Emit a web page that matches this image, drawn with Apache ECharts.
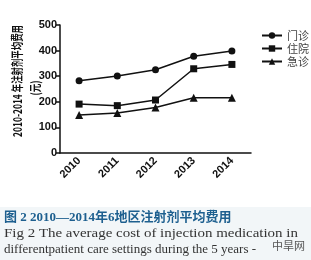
<!DOCTYPE html>
<html>
<head>
    <meta charset="utf-8">
    <script src="https://cdn.jsdelivr.net/npm/echarts@6/dist/echarts.min.js"></script>
    <style>
        html, body { margin: 0; padding: 0; background: #fff; }
        #main { width: 311px; height: 260px; }
    </style>
</head>
<body>
<div id="main"></div>
<script type="text/javascript">
    var years = ['2010', '2011', '2012', '2013', '2014'];
    var menzhen = [282, 301, 325, 378, 398];
    var zhuyuan = [191, 185, 207, 329, 346];
    var jizhen = [148, 156, 178, 216, 216];

    var myChart = echarts.init(document.getElementById('main'));

    function lineSeries(name, symbol, data, size) {
        return {
            name: name,
            type: 'line',
            symbol: symbol,
            symbolSize: size,
            data: data,
            lineStyle: { color: '#111', width: 1.5 },
            itemStyle: { color: '#111' }
        };
    }

    var opt = {
        animation: false,
        grid: { left: 60, right: 60, top: 25, bottom: 107 },
        legend: {
            orient: 'vertical',
            left: 256,
            top: 25,
            itemWidth: 20,
            itemHeight: 8,
            itemGap: 2,
            textStyle: { fontSize: 11, color: '#444', fontFamily: 'Noto Sans CJK SC' },
            data: ['门诊', '住院', '急诊']
        },
        xAxis: {
            type: 'category',
            data: years,
            boundaryGap: true,
            axisLine: { lineStyle: { color: '#111', width: 1.5 } },
            axisTick: { alignWithLabel: true, length: 4, lineStyle: { color: '#111', width: 1.5 } },
            axisLabel: { rotate: 45, color: '#111', fontSize: 11, fontWeight: 'bold', fontFamily: 'Liberation Sans', margin: 6 }
        },
        yAxis: {
            type: 'value',
            min: 0,
            max: 500,
            interval: 100,
            splitLine: { show: false },
            axisLine: { show: true, lineStyle: { color: '#111', width: 1.5 } },
            axisTick: { show: true, length: 4, lineStyle: { color: '#111', width: 1.5 } },
            axisLabel: { color: '#111', fontSize: 11, fontWeight: 'bold', fontFamily: 'Liberation Sans', margin: 3 }
        },
        graphic: [
            {
                type: 'text',
                x: 17, y: 81,
                rotation: Math.PI / 2,
                scaleX: 0.7,
                style: {
                    text: '2010-2014 年注射剂平均费用',
                    fill: '#111',
                    font: 'bold 12px "Noto Sans CJK SC"',
                    align: 'center',
                    verticalAlign: 'middle'
                }
            },
            {
                type: 'text',
                x: 35, y: 88,
                rotation: Math.PI / 2,
                scaleX: 0.7,
                style: {
                    text: '(元)',
                    fill: '#111',
                    font: 'bold 12px "Noto Sans CJK SC"',
                    align: 'center',
                    verticalAlign: 'middle'
                }
            },
            {
                type: 'rect',
                z: -1,
                shape: { x: 0, y: 207, width: 311, height: 53 },
                style: { fill: '#f2f6f8' }
            },
            {
                type: 'text',
                x: 4, y: 218,
                style: {
                    text: '图 2 2010—2014年6地区注射剂平均费用',
                    fill: '#1d5f8f',
                    font: 'bold 13px "Liberation Serif", "Noto Sans CJK SC"',
                    verticalAlign: 'middle'
                }
            },
            {
                type: 'text',
                x: 4, y: 234,
                scaleX: 1.15,
                style: {
                    text: 'Fig 2 The average cost of injection medication in',
                    fill: '#333',
                    font: '13px "Liberation Serif"',
                    verticalAlign: 'middle'
                }
            },
            {
                type: 'text',
                x: 4, y: 250,
                scaleX: 1.0,
                style: {
                    text: 'differentpatient care settings during the 5 years -',
                    fill: '#333',
                    font: '13px "Liberation Serif"',
                    verticalAlign: 'middle'
                }
            },
            {
                type: 'text',
                x: 272, y: 246,
                style: {
                    text: '中旱网',
                    fill: '#555',
                    font: '11px "Noto Sans CJK SC"',
                    verticalAlign: 'middle'
                }
            }
        ],
        series: [
            lineSeries('门诊', 'circle', menzhen, 7),
            lineSeries('住院', 'rect', zhuyuan, 7),
            lineSeries('急诊', 'triangle', jizhen, 8)
        ]
    };

    myChart.setOption(opt);
</script>
</body>
</html>
